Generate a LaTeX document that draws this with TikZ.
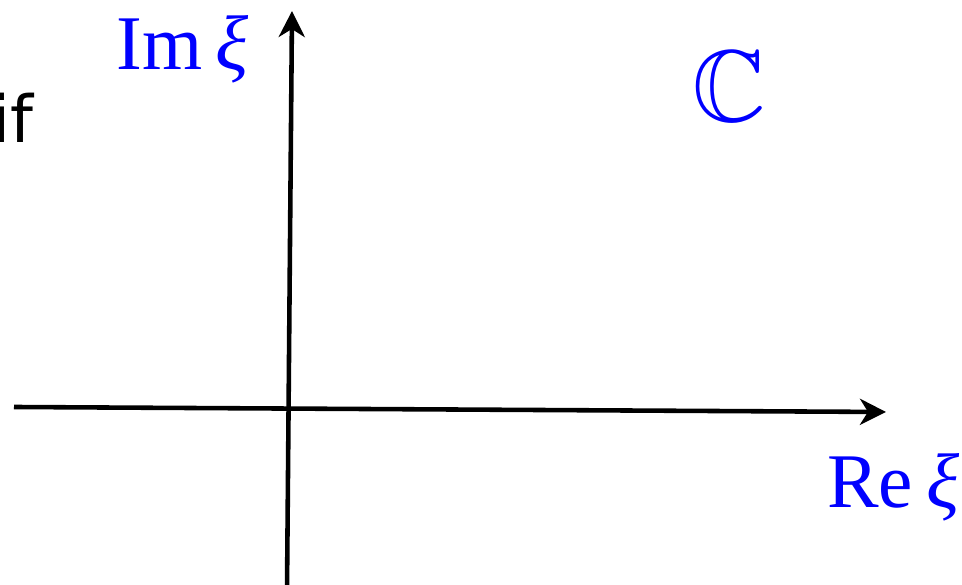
\documentclass[tikz,border=0pt]{standalone}
\usepackage{amsmath,amssymb}
\usepackage{fontspec}
\setmainfont{Liberation Serif}
\newfontfamily\notefont{DejaVu Sans}
\usetikzlibrary{arrows.meta}
\definecolor{labelblue}{RGB}{0,0,255}

\begin{document}
\begin{tikzpicture}[
      axis/.style={-{Stealth[length=0.52cm,width=0.52cm,inset=0.16cm]},line width=2.6pt,draw=black},
      lbl/.style={text=labelblue,inner sep=0pt,font=\fontsize{44}{48}\selectfont},
      note/.style={inner sep=0pt,font=\notefont\fontsize{37}{42}\selectfont}
    ]
      \useasboundingbox (0,0) rectangle (19.24,11.7);
      \coordinate (xstart) at (0.28,3.56);
      \coordinate (xend) at (17.72,3.46);
      \coordinate (ystart) at (5.74,-0.1);
      \coordinate (yend) at (5.84,11.48);
      \draw[axis] (xstart) -- (xend);
      \draw[axis] (ystart) -- (yend);
      \node[note,anchor=base east] (cond) at (0.68,8.84) {if};
      \node[lbl,anchor=base west] (imag) at (2.32,10.3) {Im\,\textit{ξ}};
      \node[lbl,anchor=base west] (real) at (16.54,1.54) {Re\,\textit{ξ}};
      \node[lbl,font=\fontsize{58}{62}\selectfont] (plane) at (14.58,9.98) {$\mathbb{C}$};
    \end{tikzpicture}
\end{document}
